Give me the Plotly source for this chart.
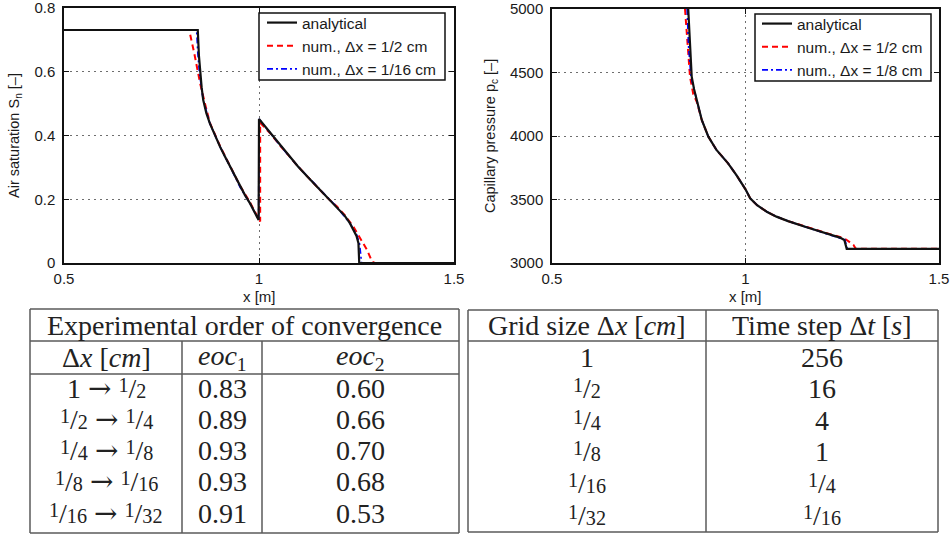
import plotly.graph_objects as go

W, H = 952, 534

# ---------------- data: air saturation (left panel) ----------------
sn_ana_x = [0.5, 0.843, 0.846, 0.849, 0.853, 0.857, 0.865, 0.874, 0.887, 0.9, 0.913, 0.926, 0.939,
            0.951, 0.964, 0.977, 0.988, 0.999, 1.0, 1.01, 1.03, 1.06, 1.08, 1.1, 1.125, 1.15, 1.175,
            1.2, 1.22, 1.233, 1.243, 1.25, 1.255, 1.257, 1.5]
sn_ana_y = [0.731, 0.731, 0.65, 0.60, 0.55, 0.511, 0.47, 0.438, 0.40, 0.365, 0.333, 0.302, 0.27,
            0.239, 0.213, 0.187, 0.161, 0.135, 0.452, 0.437, 0.405, 0.36, 0.33, 0.303, 0.27, 0.238, 0.205,
            0.175, 0.148, 0.125, 0.104, 0.085, 0.062, 0.0, 0.0]

sn_h2_x = [0.5, 0.821, 0.834, 0.849, 0.8615, 0.874, 0.9, 0.926, 0.951, 0.977, 0.995, 1.003, 1.003,
           1.03, 1.06, 1.08, 1.1, 1.125, 1.15, 1.175, 1.2, 1.22, 1.243, 1.26, 1.277, 1.29, 1.297, 1.5]
sn_h2_y = [0.731, 0.731, 0.658, 0.564, 0.50, 0.44, 0.367, 0.305, 0.243, 0.19, 0.15, 0.13, 0.44,
           0.405, 0.36, 0.33, 0.303, 0.27, 0.238, 0.205, 0.177, 0.15, 0.112, 0.077, 0.041, 0.004, 0.0, 0.0]

sn_h16_x = [0.5, 0.840, 0.843, 0.847, 0.853, 0.857, 0.874, 0.9, 0.926, 0.951, 0.977, 0.999, 1.0,
            1.03, 1.06, 1.1, 1.15, 1.2, 1.233, 1.25, 1.258, 1.262, 1.263, 1.5]
sn_h16_y = [0.731, 0.731, 0.66, 0.60, 0.545, 0.511, 0.438, 0.365, 0.302, 0.239, 0.187, 0.135, 0.452,
            0.405, 0.36, 0.303, 0.238, 0.175, 0.125, 0.09, 0.06, 0.02, 0.0, 0.0]

# ---------------- data: capillary pressure (right panel) ----------------
pc_ana_x = [0.852, 0.856, 0.861, 0.867, 0.874, 0.887, 0.904, 0.925, 0.955, 0.977, 1.0, 1.012, 1.03,
            1.055, 1.08, 1.11, 1.16, 1.21, 1.244, 1.2554, 1.2615, 1.5]
pc_ana_y = [5000, 4700, 4467, 4370, 4283, 4126, 3995, 3890, 3785, 3690, 3580, 3510, 3455,
            3404, 3365, 3330, 3280, 3235, 3200, 3181, 3112, 3112]

pc_h2_x = [0.8437, 0.850, 0.8566, 0.865, 0.874, 0.887, 0.904, 0.925, 0.955, 0.977, 1.0, 1.012, 1.03,
           1.055, 1.08, 1.11, 1.16, 1.21, 1.244, 1.26, 1.279, 1.285, 1.5]
pc_h2_y = [5000, 4700, 4467, 4330, 4270, 4126, 3995, 3890, 3785, 3690, 3580, 3510, 3455,
           3404, 3365, 3330, 3280, 3235, 3205, 3185, 3142, 3112, 3112]

pc_h8_x = [0.849, 0.853, 0.859, 0.867, 0.874, 0.887, 0.904, 0.925, 0.955, 0.977, 1.0, 1.012, 1.03,
           1.055, 1.08, 1.11, 1.16, 1.21, 1.244, 1.257, 1.263, 1.5]
pc_h8_y = [5000, 4700, 4467, 4360, 4283, 4126, 3995, 3890, 3785, 3690, 3580, 3510, 3455,
           3404, 3365, 3330, 3280, 3235, 3200, 3182, 3112, 3112]

# ---------------- data: tables ----------------
eoc_title = "Experimental order of convergence"
eoc_headers = ["Δ<i>x</i> [<i>cm</i>]", "<i>eoc</i><sub>1</sub>", "<i>eoc</i><sub>2</sub>"]
eoc_from = ["1", "1/2", "1/4", "1/8", "1/16"]
eoc_to = ["1/2", "1/4", "1/8", "1/16", "1/32"]
eoc1 = [0.83, 0.89, 0.93, 0.93, 0.91]
eoc2 = [0.60, 0.66, 0.70, 0.68, 0.53]

step_headers = ["Grid size Δ<i>x</i> [<i>cm</i>]", "Time step Δ<i>t</i> [<i>s</i>]"]
grid_sizes = ["1", "1/2", "1/4", "1/8", "1/16", "1/32"]
time_steps = ["256", "16", "4", "1", "1/4", "1/16"]


def frac(s):
    if "/" in s:
        n, d = s.split("/")
        return (f'<span style="font-size:72%;baseline-shift:0.3em">{n}</span>/'
                f'<span style="font-size:72%">{d}</span>')
    return s


SANS = "Liberation Sans, Arial, sans-serif"
SERIF = "Liberation Serif, Times New Roman, serif"
TXT = "#1a1a1a"
ARROW = '<span style="font-family:DejaVu Serif">→</span>'

fig = go.Figure()

RED = "#ff0000"
BLUE = "#0000ff"


def add_series(x, y, name, color, dash, width, xa, ya, leg, rank):
    fig.add_trace(go.Scatter(x=x, y=y, mode="lines", name=name,
                             line=dict(color=color, dash=dash, width=width),
                             xaxis=xa, yaxis=ya, legend=leg, legendrank=rank,
                             hoverinfo="skip"))


add_series(sn_h2_x, sn_h2_y, "num., Δx = 1/2 cm", RED, "6px,4px", 2, "x", "y", "legend", 2)
add_series(sn_h16_x, sn_h16_y, "num., Δx = 1/16 cm", BLUE, "6px,3px,2px,3px", 1.6, "x", "y", "legend", 3)
add_series(sn_ana_x, sn_ana_y, "analytical", "#111111", "solid", 2.2, "x", "y", "legend", 1)

add_series(pc_h2_x, pc_h2_y, "num., Δx = 1/2 cm", RED, "6px,4px", 2, "x2", "y2", "legend2", 2)
add_series(pc_h8_x, pc_h8_y, "num., Δx = 1/8 cm", BLUE, "6px,3px,2px,3px", 1.6, "x2", "y2", "legend2", 3)
add_series(pc_ana_x, pc_ana_y, "analytical", "#111111", "solid", 2.2, "x2", "y2", "legend2", 1)


def px(v):
    return v / W


def py(v):
    return 1 - v / H


axis_common = dict(showline=True, linecolor="#111111", linewidth=1.5, mirror="allticks",
                   ticks="inside", ticklen=5, tickcolor="#111111", tickwidth=1,
                   showgrid=True, gridcolor="#6e6e6e", griddash="1.5px,4.5px", gridwidth=1,
                   zeroline=False, tickfont=dict(family=SANS, size=15, color=TXT),
                   fixedrange=True, automargin=False, ticklabeloverflow="allow")

fig.update_layout(
    template="none",
    width=W, height=H, margin=dict(l=0, r=0, t=0, b=0, pad=0, autoexpand=False),
    paper_bgcolor="white", plot_bgcolor="rgba(0,0,0,0)",
    font=dict(family=SANS, color=TXT),
    xaxis=dict(domain=[px(64), px(454)], range=[0.5, 1.5], tickvals=[0.5, 1, 1.5],
               ticktext=["0.5", "1", "1.5"], anchor="y", ticklabelstandoff=1, **axis_common),
    yaxis=dict(domain=[py(263), py(8)], range=[0, 0.80001], tickvals=[0, 0.2, 0.4, 0.6, 0.8],
               ticktext=["0", "0.2", "0.4", "0.6", "0.8"], anchor="x", ticklabelstandoff=4, **axis_common),
    xaxis2=dict(domain=[px(552), px(939)], range=[0.5, 1.5], tickvals=[0.5, 1, 1.5],
                ticktext=["0.5", "1", "1.5"], anchor="y2", ticklabelstandoff=1, **axis_common),
    yaxis2=dict(domain=[py(263), py(9)], range=[3000, 5000], tickvals=[3000, 3500, 4000, 4500, 5000],
                anchor="x2", ticklabelstandoff=4, **axis_common),
    xaxis3=dict(domain=[0, 1], range=[0, W], visible=False, anchor="y3", fixedrange=True,
                automargin=False, showgrid=False, zeroline=False),
    yaxis3=dict(domain=[0, 1], range=[H, 0], visible=False, anchor="x3", fixedrange=True,
                automargin=False, showgrid=False, zeroline=False),
    legend=dict(x=px(262), y=py(6), xanchor="left", yanchor="top", bgcolor="rgba(0,0,0,0)",
                borderwidth=0, font=dict(family=SANS, size=15.5, color=TXT),
                itemwidth=30, tracegroupgap=0),
    legend2=dict(x=px(757), y=py(7), xanchor="left", yanchor="top", bgcolor="rgba(0,0,0,0)",
                 borderwidth=0, font=dict(family=SANS, size=15.5, color=TXT),
                 itemwidth=30, tracegroupgap=0),
    showlegend=True,
)

ann = []
# axis titles
ann.append(dict(text="x [m]", x=259, y=296, xref="x3", yref="y3", showarrow=False,
                xanchor="center", yanchor="middle", font=dict(family=SANS, size=15, color=TXT)))
ann.append(dict(text="x [m]", x=745, y=296, xref="x3", yref="y3", showarrow=False,
                xanchor="center", yanchor="middle", font=dict(family=SANS, size=15, color=TXT)))
ann.append(dict(text="Air saturation S<sub>n</sub> [–]", x=15, y=136, xref="x3", yref="y3",
                xanchor="center", yanchor="middle",
                showarrow=False, textangle=-90, font=dict(family=SANS, size=14.5, color=TXT)))
ann.append(dict(text="Capillary pressure p<sub>c</sub> [–]", x=491, y=136, xref="x3", yref="y3",
                xanchor="center", yanchor="middle",
                showarrow=False, textangle=-90, font=dict(family=SANS, size=14.5, color=TXT)))

shapes = []
# legend frames
shapes.append(dict(type="rect", xref="x3", yref="y3", x0=259, x1=445, y0=13, y1=80,
                   fillcolor="white", line=dict(color="#111111", width=1.5), layer="above"))
shapes.append(dict(type="rect", xref="x3", yref="y3", x0=755, x1=931, y0=14, y1=81,
                   fillcolor="white", line=dict(color="#111111", width=1.5), layer="above"))

LC = "#5a5a5a"


def hline(x0, x1, y):
    shapes.append(dict(type="line", xref="x3", yref="y3", x0=x0, x1=x1, y0=y, y1=y,
                       line=dict(color=LC, width=1.5)))


def vline(x, y0, y1):
    shapes.append(dict(type="line", xref="x3", yref="y3", x0=x, x1=x, y0=y0, y1=y1,
                       line=dict(color=LC, width=1.5)))


def cell(text, x, y, size=28):
    ann.append(dict(text=text, x=x, y=y, xref="x3", yref="y3", showarrow=False,
                    xanchor="center", yanchor="middle",
                    font=dict(family=SERIF, size=size, color="#222222")))


# left table geometry
L_x = [30, 182, 262, 459]
L_y_top, L_y_title, L_y_head, L_y_bot = 309, 341, 374, 533
L_first, L_pitch = 388, 31.3
hline(L_x[0], L_x[-1], L_y_top)
hline(L_x[0], L_x[-1], L_y_title)
hline(L_x[0], L_x[-1], L_y_head)
hline(L_x[0], L_x[-1], L_y_bot)
vline(L_x[0], L_y_top, L_y_bot)
vline(L_x[-1], L_y_top, L_y_bot)
for xv in L_x[1:-1]:
    vline(xv, L_y_title, L_y_bot)
L_cx = [(L_x[i] + L_x[i + 1]) / 2 for i in range(3)]
cell(eoc_title, (L_x[0] + L_x[-1]) / 2, (L_y_top + L_y_title) / 2)
for i, h in enumerate(eoc_headers):
    cell(h, L_cx[i], (L_y_title + L_y_head) / 2)
for r in range(len(eoc1)):
    yc = L_first + L_pitch * r
    cell(f"{frac(eoc_from[r])} {ARROW} {frac(eoc_to[r])}", L_cx[0], yc)
    cell(f"{eoc1[r]:.2f}", L_cx[1], yc)
    cell(f"{eoc2[r]:.2f}", L_cx[2], yc)

# right table geometry
R_x = [468, 706, 938]
R_y_top, R_y_head, R_y_bot = 310, 341, 532
R_first, R_pitch = 357, 31.6
hline(R_x[0], R_x[-1], R_y_top)
hline(R_x[0], R_x[-1], R_y_head)
hline(R_x[0], R_x[-1], R_y_bot)
for xv in R_x:
    vline(xv, R_y_top, R_y_bot)
R_cx = [(R_x[i] + R_x[i + 1]) / 2 for i in range(2)]
for i, h in enumerate(step_headers):
    cell(h, R_cx[i], (R_y_top + R_y_head) / 2)
for r in range(len(grid_sizes)):
    yc = R_first + R_pitch * r
    cell(frac(grid_sizes[r]), R_cx[0], yc)
    cell(frac(time_steps[r]), R_cx[1], yc)

fig.update_layout(annotations=ann, shapes=shapes)

fig.write_html("out.html")
